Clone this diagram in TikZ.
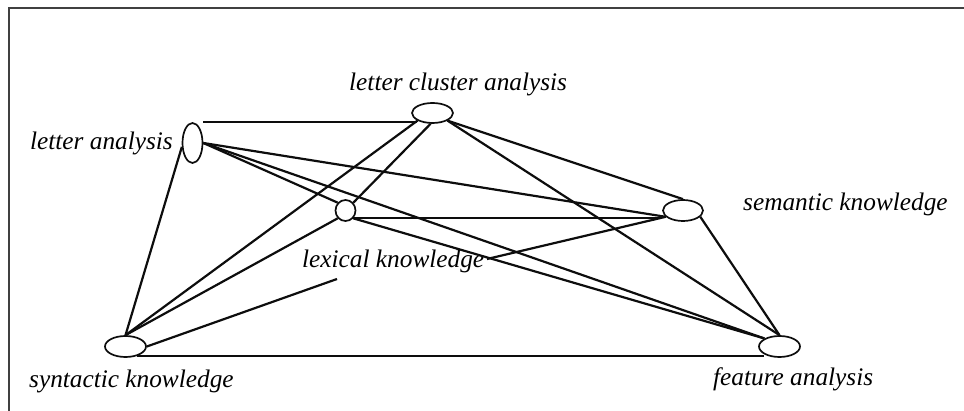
\documentclass[tikz,border=0pt]{standalone}
\usepackage{fontspec}
\setmainfont{Liberation Serif}
\usetikzlibrary{shapes.geometric}
\begin{document}
\begin{tikzpicture}[x=1pt,y=-1pt,
  vertex/.style={ellipse,draw=black!95,line width=1.7pt,inner sep=0pt},
  link/.style={draw=black!95,line width=2.2pt},
  lbl/.style={font=\fontsize{25.3}{30}\selectfont\itshape,inner sep=0pt}]
\useasboundingbox (0,0) rectangle (964,411);
% frame
\draw[black!75,line width=2pt] (9,411) -- (9,8) -- (964,8);

% knowledge sources
\node[vertex,minimum width=41pt,minimum height=20pt] (lca) at (432.5,113) {};
\node[vertex,minimum width=20pt,minimum height=40pt] (la)  at (192.5,143) {};
\node[vertex,minimum width=20pt,minimum height=21pt] (lex) at (345.5,210.5) {};
\node[vertex,minimum width=40pt,minimum height=21pt] (sem) at (683,210.5) {};
\node[vertex,minimum width=41pt,minimum height=21pt] (syn) at (125.5,346.5) {};
\node[vertex,minimum width=41pt,minimum height=21pt] (fa)  at (779.5,346.5) {};

% labels
\node[lbl,anchor=base west] (lcaT) at (349,91)  {letter cluster analysis};
\node[lbl,anchor=base east] (laT)  at (173,150) {letter analysis};
\node[lbl,anchor=base west] (lexT) at (302,268) {lexical knowledge};
\node[lbl,anchor=base west] (semT) at (743,211) {semantic knowledge};
\node[lbl,anchor=base west] (synT) at (29,388)  {syntactic knowledge};
\node[lbl,anchor=base west] (faT)  at (713,386) {feature analysis};

% ends of the link interrupted by the lexical label
\coordinate (gapL) at (337,279);
\coordinate (gapR) at (487,259);

% links
\draw[link] (la.north -| la.east) -- (la.north -| lca.south west);
\draw[link] (la.east) -- (sem.200);
\draw[link] (la.east) -- (lex.135);
\draw[link] (la.east) -- (fa.north west);
\draw[link] (la.200) -- (syn.north);
\draw[link] (lca.south west) -- (syn.north);
\draw[link] (lca.260) -- (lex.45);
\draw[link] (lca.south east) -- (sem.north);
\draw[link] (lca.south east) -- (fa.north);
\draw[link] (lex.-45) -- (lex.-45 -| sem.west);
\draw[link] (lex.-45) -- (fa.north west);
\draw[link] (lex.225) -- (syn.north);
\draw[link] (sem.-20) -- (fa.north);
\draw[link] (sem.200) -- (gapR);
\draw[link] (syn.east) -- (gapL);
\draw[link] (syn.-40) -- (syn.-40 -| fa.south west);
\end{tikzpicture}
\end{document}
